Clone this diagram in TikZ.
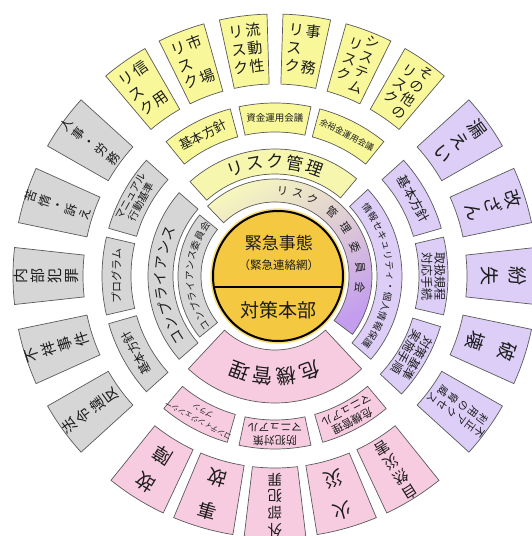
\documentclass[tikz,border=0pt]{standalone}
\usepackage{fontspec}
\setmainfont{Noto Sans CJK JP}
\definecolor{cY}{HTML}{F8F89A}
\definecolor{cYl}{HTML}{F6F6AE}
\definecolor{cG}{HTML}{D6D6D6}
\definecolor{cP}{HTML}{DCCEF6}
\definecolor{cK}{HTML}{F8CCE0}
\definecolor{cGold}{HTML}{F5C842}
\definecolor{cGoldL}{HTML}{F8DC78}
\definecolor{cLn}{HTML}{5A5A5A}
\definecolor{cTx}{HTML}{1C1C1C}
\definecolor{gA}{HTML}{F6F6BE}
\definecolor{gM}{HTML}{E4D0E4}
\definecolor{gB}{HTML}{C49EEE}
\newcommand{\sect}[5]{\path[#1] ({#2}:#4pt) arc[start angle={#2}, end angle={#3}, radius=#4pt] -- ({#3}:#5pt) arc[start angle={#3}, end angle={#2}, radius=#5pt] -- cycle;}
\newcommand{\vc}[1]{\begin{tabular}{@{}c@{}}#1\end{tabular}}
\newcommand{\fs}[2]{\fontsize{#1}{#2}\selectfont}
\begin{document}
\begin{tikzpicture}[
  box/.style={draw=cLn, line width=0.7pt},
  tx/.style={inner sep=0pt, text=cTx},
  tl/.style={inner sep=0pt, text=cTx, align=center}
]
\useasboundingbox[fill=white] (-275pt,-260pt) rectangle (256pt,276pt);

% ---------- ring 5 : top (yellow)
\sect{box,fill=cY}{119.75}{130.25}{192}{262}
\node[tx,rotate=35,font=\fs{15}{18}] (o1) at (125:227pt) {\vc{リ\\ス\\ク}\hspace{1.5pt}\vc{信\\[18pt]用}};
\sect{box,fill=cY}{105.75}{116.25}{192}{262}
\node[tx,rotate=21,font=\fs{15}{18}] (o2) at (111:227pt) {\vc{リ\\ス\\ク}\hspace{1.5pt}\vc{市\\[18pt]場}};
\sect{box,fill=cY}{91.75}{102.25}{192}{262}
\node[tx,rotate=7,font=\fs{15}{18}] (o3) at (97:227pt) {\vc{リ\\ス\\ク}\hspace{1.5pt}\vc{流\\動\\性}};
\sect{box,fill=cY}{77.75}{88.25}{192}{262}
\node[tx,rotate=-7,font=\fs{15}{18}] (o4) at (83:227pt) {\vc{リ\\ス\\ク}\hspace{1.5pt}\vc{事\\[18pt]務}};
\sect{box,fill=cY}{63.75}{74.25}{192}{262}
\node[tx,rotate=-21,font=\fs{14}{16}] (o5) at (69:227pt) {\vc{リ\\ス\\ク}\hspace{1.5pt}\vc{シ\\ス\\テ\\ム}};
\sect{box,fill=cY}{49.75}{60.25}{192}{262}
\node[tx,rotate=-35,font=\fs{14}{16}] (o6) at (55:227pt) {\vc{リ\\ス\\ク}\hspace{1.5pt}\vc{そ\\の\\他\\の}};

% ---------- ring 5 : left (gray)
\sect{box,fill=cG}{137.75}{150.25}{192}{262}
\node[tx,rotate=54,font=\fs{12.5}{13.8}] (o7) at (144:227pt) {\vc{人\\事\\・\\労\\務}};
\sect{box,fill=cG}{155.75}{168.25}{192}{262}
\node[tx,rotate=72,font=\fs{12.5}{13.8}] (o8) at (162:227pt) {\vc{苦\\情\\・\\訴\\え}};
\sect{box,fill=cG}{173.75}{186.25}{192}{262}
\node[tx,rotate=90,font=\fs{15}{16}] (o9) at (180:227pt) {\vc{内\\部\\犯\\罪}};
\sect{box,fill=cG}{191.75}{204.25}{192}{262}
\node[tx,rotate=108,font=\fs{15}{16}] (o10) at (198:227pt) {\vc{不\\祥\\事\\件}};
\sect{box,fill=cG}{209.75}{222.25}{192}{262}
\node[tx,rotate=126,font=\fs{15}{16}] (o11) at (216:227pt) {\vc{法\\令\\違\\反}};

% ---------- ring 5 : right (purple)
\sect{box,fill=cP}{29.75}{42.25}{192}{262}
\node[tx,rotate=-54,font=\fs{18}{21}] (o12) at (36:227pt) {\vc{漏\\え\\い}};
\sect{box,fill=cP}{11.75}{24.25}{192}{262}
\node[tx,rotate=-72,font=\fs{18}{20}] (o13) at (18:227pt) {\vc{改\\ざ\\ん}};
\sect{box,fill=cP}{-6.25}{6.25}{192}{262}
\node[tx,rotate=-90,font=\fs{19}{28}] (o14) at (0:227pt) {\vc{紛\\失}};
\sect{box,fill=cP}{-24.25}{-11.75}{192}{262}
\node[tx,rotate=-108,font=\fs{19}{34}] (o15) at (-18:227pt) {\vc{破\\壊}};
\sect{box,fill=cP}{-42.25}{-29.75}{192}{262}
\node[tx,rotate=-126,font=\fs{10.5}{11.5}] (o16) at (-36:227pt) {\vc{利\\用\\の\\脅\\威}\hspace{2pt}\vc{不\\正\\ア\\ク\\セ\\ス}};

% ---------- ring 5 : bottom (pink)
\sect{box,fill=cK}{231.25}{244.75}{192}{262}
\node[tx,rotate=148,font=\fs{19}{32}] (o17) at (238:227pt) {\vc{故\\障}};
\sect{box,fill=cK}{247.25}{260.75}{192}{262}
\node[tx,rotate=164,font=\fs{19}{35}] (o18) at (254:227pt) {\vc{事\\故}};
\sect{box,fill=cK}{263.25}{276.75}{192}{262}
\node[tx,rotate=180,font=\fs{14.5}{15.5}] (o19) at (270:227pt) {\vc{外\\部\\犯\\罪}};
\sect{box,fill=cK}{279.25}{292.75}{192}{262}
\node[tx,rotate=196,font=\fs{19}{33}] (o20) at (286:227pt) {\vc{火\\災}};
\sect{box,fill=cK}{295.25}{308.75}{192}{262}
\node[tx,rotate=212,font=\fs{15}{16}] (o21) at (302:227pt) {\vc{自\\然\\災\\害}};

% ---------- ring 4
\sect{box,fill=cY}{105}{129}{144}{173}
\node[tx,rotate=27,font=\fs{13}{13}] (m1) at (117:158.5pt) {基本方針};
\sect{box,fill=cY}{78}{102}{144}{173}
\node[tx,font=\fs{9.5}{9.5}] (m2) at (90:158.5pt) {資金運用会議};
\sect{box,fill=cY}{51}{75}{144}{173}
\node[tx,rotate=-27,font=\fs{8.5}{8.5}] (m3) at (63:158.5pt) {余裕金運用会議};

\sect{box,fill=cG}{138}{164}{144}{173}
\node[tl,rotate=61,font=\fs{10.5}{12}] (m4) at (151:158.5pt) {マニュアル\\行動基準};
\sect{box,fill=cG}{167}{193}{144}{173}
\node[tx,rotate=90,font=\fs{11}{11}] (m5) at (180:158.5pt) {プログラム};
\sect{box,fill=cG}{196}{222}{144}{173}
\node[tx,rotate=119,font=\fs{12}{12}] (m6) at (209:158.5pt) {基本方針};

\sect{box,fill=cP}{16}{42}{144}{173}
\node[tx,rotate=-61,font=\fs{13}{13}] (m7) at (29:158.5pt) {基本方針};
\sect{box,fill=cP}{-13}{13}{144}{173}
\node[tl,rotate=-90,font=\fs{12}{13}] (m8) at (0:158.5pt) {取扱規程\\対応手続};
\sect{box,fill=cP}{-43}{-17}{144}{173}
\node[tl,rotate=-120,font=\fs{12}{13}] (m9) at (-30:158.5pt) {対策基準\\実施手順};

\sect{box,fill=cK}{230}{254}{144}{173}
\node[tl,rotate=152,font=\fs{7.5}{11}] (m10) at (242:158.5pt) {コンティンジェンシー\\プラン};
\sect{box,fill=cK}{258}{282}{144}{173}
\node[tl,rotate=180,font=\fs{11}{12.5}] (m11) at (270:158.5pt) {防犯対策\\マニュアル};
\sect{box,fill=cK}{286}{310}{144}{173}
\node[tl,rotate=208,font=\fs{11}{12.5}] (m12) at (298:158.5pt) {危機管理\\マニュアル};

% ---------- ring 3
\sect{box,fill=cYl}{50}{132}{102}{127}
\sect{box,fill=cP}{-41}{43}{102}{127}
\sect{box,fill=cG}{139}{221}{102}{127}
\sect{box,fill=cK}{227}{313}{74}{127}
\foreach \ch [count=\i from 0] in {リ,ス,ク,管,理}
  \node[tx,font=\fs{17}{17},rotate={20-10*\i}] (rk\i) at ({110-10*\i}:114.5pt) {\ch};
\foreach \ch [count=\i from 0] in {コ,ン,プ,ラ,イ,ア,ン,ス}
  \node[tx,font=\fs{14}{14},rotate={121.95-7.7*\i}] (cp\i) at ({211.95-7.7*\i}:114.5pt) {\ch};
\foreach \ch [count=\i from 0] in {情,報,セ,キ,ュ,リ,テ,ィ,・,個,人,情,報,保,護}
  \node[tx,font=\fs{9.5}{9.5},rotate={-53.6-5.2*\i}] (js\i) at ({36.4-5.2*\i}:114.5pt) {\ch};
\foreach \ch [count=\i from 0] in {危,機,管,理}
  \node[tx,font=\fs{20}{20},rotate={200.4-13.6*\i}] (kk\i) at ({290.4-13.6*\i}:101pt) {\ch};

% ---------- ring 2
\sect{box,top color=gA,middle color=gM,bottom color=gB,shading angle=30}{-37}{134}{74}{97}
\sect{box,fill=cG}{141}{219}{74}{97}
\foreach \ch/\a [count=\i] in {リ/85,ス/74.5,ク/64,管/48,理/34,委/20,員/6,会/-8}
  \node[tx,font=\fs{11}{11},rotate={\a-90}] (rc\i) at (\a:85.5pt) {\ch};
\foreach \ch [count=\i from 0] in {コ,ン,プ,ラ,イ,ア,ン,ス,委,員,会}
  \node[tx,font=\fs{9.5}{9.5},rotate={125-7*\i}] (ci\i) at ({215-7*\i}:85.5pt) {\ch};

% ---------- centre
\fill[cGold] (3pt,0pt) circle[radius=67pt];
\draw[cGoldL,line width=1.2pt] (3pt,0pt) circle[radius=67pt];
\draw[black,line width=2pt] (3pt,0pt) circle[radius=65pt];
\begin{scope}
  \clip (3pt,0pt) circle[radius=65pt];
  \draw[black,line width=1.6pt] (-70pt,-11pt) -- (76pt,-11pt);
\end{scope}
\node[tx,font=\fs{17}{17}] (kj) at (4pt,33pt) {緊急事態};
\node[tx,font=\fs{11.5}{12}] (kr) at (4pt,11pt) {（緊急連絡網）};
\node[tx,font=\fs{19}{19}] (tb) at (4pt,-34pt) {対策本部};
\end{tikzpicture}
\end{document}
